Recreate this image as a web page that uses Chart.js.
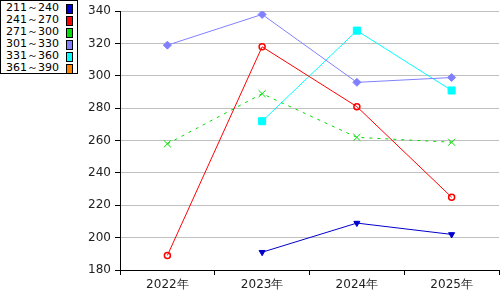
<!DOCTYPE html>
<html><head><meta charset="utf-8">
<script src="https://cdn.jsdelivr.net/npm/chart.js@4/dist/chart.umd.min.js"></script>
<style>
html,body{margin:0;padding:0;background:#fff;overflow:hidden;}
#wrap{position:relative;width:500px;height:300px;overflow:hidden;}
#legend{position:absolute;left:0;top:0;width:76px;height:72px;border:1px solid #000;background:#fff;font:11px "DejaVu Sans",sans-serif;color:#000;}
#legend .row{position:absolute;left:5px;height:12px;line-height:12px;white-space:nowrap;}
#legend .sw{position:absolute;left:65px;width:5px;height:8px;border:1px solid #000;}
</style></head><body>
<div id="wrap"><canvas id="c" width="505" height="300"></canvas><div id="legend"></div></div>
<script>
const categories = ['2022年','2023年','2024年','2025年'];
const seriesNames = ['211～240','241～270','271～300','301～330','331～360','361～390'];
const s211 = [null,191,209,202];
const s241 = [189,318,281,225];
const s271 = [258,289,262,259];
const s301 = [319,338,296,299];
const s331 = [null,272,328,291];
const s361 = [null,null,null,null];
const yTicks = [180,200,220,240,260,280,300,320,340];

const colors = ['#0000cc','#ff0000','#00dd00','#8080ff','#00ffff','#ff8000'];
const legendColors = ['#0000cc','#ff0000','#00dd00','#8080ff','#00ffff','#ff8000'];

const lg = document.getElementById('legend');
seriesNames.forEach((n,i)=>{
  const r=document.createElement('div');r.className='row';r.style.top=(1+i*12)+'px';r.textContent=n;lg.appendChild(r);
  const s=document.createElement('div');s.className='sw';s.style.top=(3+i*12)+'px';s.style.background=legendColors[i];lg.appendChild(s);
});

const data = {
  labels: categories,
  datasets: [
    {label:seriesNames[0],data:s211,borderColor:colors[0],backgroundColor:colors[0],borderWidth:1,pointStyle:'triangle',rotation:180,pointRadius:3.5,pointBorderWidth:1},
    {label:seriesNames[1],data:s241,borderColor:colors[1],backgroundColor:'rgba(0,0,0,0)',borderWidth:1,pointStyle:'circle',pointRadius:3,pointBorderWidth:1.5},
    {label:seriesNames[2],data:s271,borderColor:colors[2],backgroundColor:colors[2],borderWidth:1,borderDash:[3,5],pointStyle:'crossRot',pointRadius:5,pointBorderWidth:1},
    {label:seriesNames[3],data:s301,borderColor:colors[3],backgroundColor:colors[3],borderWidth:1,pointStyle:'rectRot',pointRadius:4,pointBorderWidth:1},
    {label:seriesNames[4],data:s331,borderColor:colors[4],backgroundColor:colors[4],borderWidth:1,pointStyle:'rect',pointRadius:5,pointBorderWidth:1},
    {label:seriesNames[5],data:s361,borderColor:colors[5],backgroundColor:colors[5],borderWidth:1}
  ]
};

new Chart(document.getElementById('c'),{
  type:'line',
  data:data,
  options:{
    responsive:false,animation:false,devicePixelRatio:1,
    layout:{padding:{top:10,right:0,left:0,bottom:0}},
    plugins:{legend:{display:false},tooltip:{enabled:false}},
    elements:{line:{tension:0}},
    scales:{
      x:{
        offset:true,
        grid:{offset:true,drawOnChartArea:false,drawTicks:true,tickLength:5,color:'#000',tickColor:'#000'},
        border:{color:'#000',width:1},
        ticks:{color:'#222',font:{family:'"DejaVu Sans",sans-serif',size:12},padding:3,maxRotation:0},
        afterFit:(s)=>{s.height=30;}
      },
      y:{
        min:180,max:340,
        afterBuildTicks:(s)=>{s.ticks=yTicks.map(v=>({value:v}));},
        grid:{color:'#c0c0c0',tickColor:'#000',tickLength:5,lineWidth:1},
        border:{color:'#000',width:1},
        ticks:{color:'#222',font:{family:'"DejaVu Sans",sans-serif',size:12},padding:4},
        afterFit:(s)=>{s.width=120;}
      }
    }
  }
});
</script>
</body></html>
